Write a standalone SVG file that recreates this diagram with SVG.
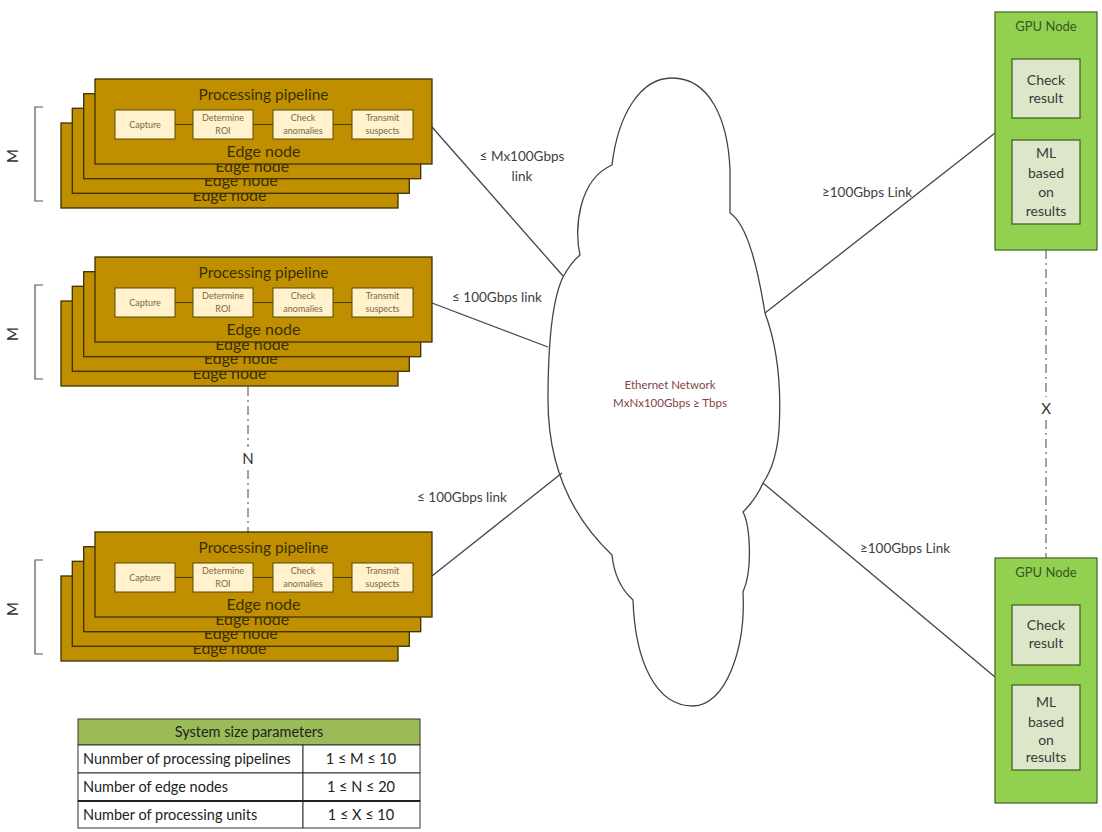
<svg xmlns="http://www.w3.org/2000/svg" width="1102" height="832" viewBox="0 0 1102 832">
  <style>
    text { font-family: Lato, "Open Sans", "Liberation Sans", sans-serif; text-anchor: middle; }
    .edge { fill: #bf8f00; stroke: #3b3000; stroke-width: 1.3; }
    .edge-label { font-size: 16px; fill: #3b2f00; }
    .pipe-title { font-size: 15.5px; fill: #3b2f00; }
    .stage { fill: #fff2cc; stroke: #5b4a00; stroke-width: 1; }
    .stage-text { font-size: 9px; fill: #7a6a44; }
    .pipe-link { stroke: #4a3b00; stroke-width: 1.2; fill: none; }
    .bracket { fill: none; stroke: #555; stroke-width: 1.2; }
    .dim { font-size: 15px; fill: #333; }
    .gpu { fill: #92d050; stroke: #4a6b2a; stroke-width: 1.3; }
    .gpu-inner { fill: #dde6c8; stroke: #3e5b22; stroke-width: 1.2; }
    .gpu-title { font-size: 13px; fill: #375623; }
    .gpu-text { font-size: 14px; fill: #3a3a3a; }
    .link { stroke: #444; stroke-width: 1.3; fill: none; }
    .dashdot { stroke: #444; stroke-width: 1; fill: none; stroke-dasharray: 9 4 2 4; }
    .link-label { font-size: 13.5px; fill: #404040; }
    .cloud { fill: #fff; stroke: #444; stroke-width: 1.3; }
    .cloud-text { font-size: 11.5px; fill: #7f4545; }
    .table-cell { fill: #fff; stroke: #333; stroke-width: 1; }
    .table-head { fill: #9bbb59; stroke: #333; stroke-width: 1; }
    .table-text { font-size: 14.5px; fill: #222; }
  </style>

  <defs>
    <!-- one edge node card -->
    <g id="edge-layer">
      <rect class="edge" width="337" height="85"/>
      <text class="edge-label" x="168.5" y="78">Edge node</text>
    </g>
    <!-- front card with the processing pipeline stages -->
    <g id="pipeline-layer">
      <use href="#edge-layer"/>
      <text class="pipe-title" x="168.5" y="21">Processing pipeline</text>
      <path class="pipe-link" d="M80,45.5H98M158,45.5H178M238,45.5H257"/>
      <rect class="stage" x="20" y="31" width="60" height="29"/>
      <rect class="stage" x="98" y="31" width="60" height="29"/>
      <rect class="stage" x="178" y="31" width="60" height="29"/>
      <rect class="stage" x="257" y="31" width="61" height="29"/>
      <text class="stage-text" x="50" y="48.5">Capture</text>
      <text class="stage-text" x="128" y="42">Determine</text>
      <text class="stage-text" x="128" y="55">ROI</text>
      <text class="stage-text" x="208" y="42">Check</text>
      <text class="stage-text" x="208" y="55">anomalies</text>
      <text class="stage-text" x="287.5" y="42">Transmit</text>
      <text class="stage-text" x="287.5" y="55">suspects</text>
    </g>
    <!-- stack of M edge nodes with its bracket -->
    <g id="edge-stack">
      <use href="#edge-layer" x="-34" y="44"/>
      <use href="#edge-layer" x="-22.7" y="29.3"/>
      <use href="#edge-layer" x="-11.3" y="14.7"/>
      <use href="#pipeline-layer"/>
      <path class="bracket" d="M-52,28H-60V122H-52"/>
      <text class="dim" transform="translate(-77,77) rotate(-90)">M</text>
    </g>
  </defs>

  <!-- network cloud -->
  <g id="network">
    <path class="cloud" d="M612,165 C618,115 640,78 672,78 C710,78 728,120 730,170 L730,213
      C748,225 758,270 765,313 C775,340 782,380 779,430 C777,455 772,470 763,483
      C758,495 750,505 743,512 C750,525 753,570 743,592
      C746,650 725,706 693,706 C655,706 635,660 633,600
      C622,590 614,575 612,555 C575,520 548,470 548,400 C548,340 552,300 563,277
      C568,268 574,260 580,255 C574,230 578,180 612,165 Z"/>
    <text class="cloud-text" x="670" y="389">Ethernet Network</text>
    <text class="cloud-text" x="670" y="407">MxNx100Gbps ≥ Tbps</text>
  </g>

  <!-- connectors -->
  <g id="connectors">
    <line class="link" x1="432" y1="127" x2="563" y2="276"/>
    <line class="link" x1="432" y1="303" x2="548" y2="347"/>
    <line class="link" x1="432" y1="576" x2="562" y2="473"/>
    <line class="link" x1="765" y1="313" x2="995" y2="133"/>
    <line class="link" x1="763" y1="483" x2="995" y2="677"/>
    <path class="dashdot" d="M248,387V447M248,470V532"/>
    <path class="dashdot" d="M1046,250V397M1046,420V558"/>
    <text class="dim" x="248" y="464">N</text>
    <text class="dim" x="1046" y="414">X</text>
    <text class="link-label" x="522" y="161">≤ Mx100Gbps</text>
    <text class="link-label" x="522" y="181">link</text>
    <text class="link-label" x="497" y="302">≤ 100Gbps link</text>
    <text class="link-label" x="462" y="502">≤ 100Gbps link</text>
    <text class="link-label" x="867" y="197">≥100Gbps Link</text>
    <text class="link-label" x="905" y="553">≥100Gbps Link</text>
  </g>

  <!-- edge node stacks -->
  <g id="edge-stack-1"><use href="#edge-stack" x="95" y="79"/></g>
  <g id="edge-stack-2"><use href="#edge-stack" x="95" y="257"/></g>
  <g id="edge-stack-3"><use href="#edge-stack" x="95" y="532"/></g>

  <!-- GPU nodes -->
  <g id="gpu-node-1">
    <rect class="gpu" x="995" y="12" width="102" height="238"/>
    <text class="gpu-title" x="1046" y="31">GPU Node</text>
    <rect class="gpu-inner" x="1012" y="59" width="68" height="59"/>
    <text class="gpu-text" x="1046" y="85">Check</text>
    <text class="gpu-text" x="1046" y="103">result</text>
    <rect class="gpu-inner" x="1012" y="140" width="68" height="84"/>
    <text class="gpu-text" x="1046" y="158">ML</text>
    <text class="gpu-text" x="1046" y="178">based</text>
    <text class="gpu-text" x="1046" y="197">on</text>
    <text class="gpu-text" x="1046" y="216">results</text>
  </g>
  <g id="gpu-node-2">
    <rect class="gpu" x="995" y="558" width="102" height="245"/>
    <text class="gpu-title" x="1046" y="577">GPU Node</text>
    <rect class="gpu-inner" x="1012" y="605" width="68" height="60"/>
    <text class="gpu-text" x="1046" y="630">Check</text>
    <text class="gpu-text" x="1046" y="648">result</text>
    <rect class="gpu-inner" x="1012" y="685" width="68" height="85"/>
    <text class="gpu-text" x="1046" y="707">ML</text>
    <text class="gpu-text" x="1046" y="727">based</text>
    <text class="gpu-text" x="1046" y="745">on</text>
    <text class="gpu-text" x="1046" y="762">results</text>
  </g>

  <!-- system size parameters table -->
  <g id="size-table">
    <rect class="table-head" x="78" y="719" width="342" height="26"/>
    <rect class="table-cell" x="78" y="745" width="225" height="28"/>
    <rect class="table-cell" x="303" y="745" width="117" height="28"/>
    <rect class="table-cell" x="78" y="773" width="225" height="28"/>
    <rect class="table-cell" x="303" y="773" width="117" height="28"/>
    <rect class="table-cell" x="78" y="801" width="225" height="27"/>
    <rect class="table-cell" x="303" y="801" width="117" height="27"/>
    <line x1="78" y1="801" x2="420" y2="801" stroke="#222" stroke-width="2"/>
    <text class="table-text" x="249" y="737">System size parameters</text>
    <text class="table-text" x="83" y="764" style="text-anchor:start">Nunmber of processing pipelines</text>
    <text class="table-text" x="83" y="792" style="text-anchor:start">Number of edge nodes</text>
    <text class="table-text" x="83" y="820" style="text-anchor:start">Number of processing units</text>
    <text class="table-text" x="361" y="764">1 ≤ M ≤ 10</text>
    <text class="table-text" x="361" y="792">1 ≤ N ≤ 20</text>
    <text class="table-text" x="361" y="820">1 ≤ X ≤ 10</text>
  </g>
</svg>
